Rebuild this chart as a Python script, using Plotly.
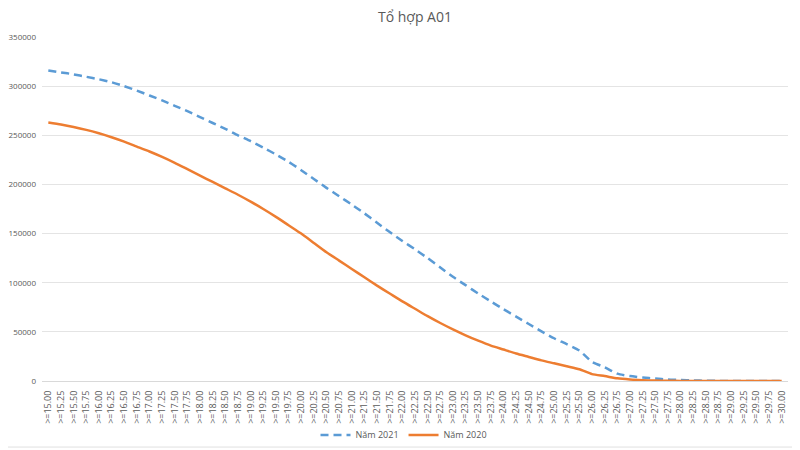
import plotly.graph_objects as go

categories = [">=%.2f" % v for v in
              [15.00, 15.25, 15.50, 15.75, 16.00, 16.25, 16.50, 16.75, 17.00, 17.25,
               17.50, 17.75, 18.00, 18.25, 18.50, 18.75, 19.00, 19.25, 19.50, 19.75,
               20.00, 20.25, 20.50, 20.75, 21.00, 21.25, 21.50, 21.75, 22.00, 22.25,
               22.50, 22.75, 23.00, 23.25, 23.50, 23.75, 24.00, 24.25, 24.50, 24.75,
               25.00, 25.25, 25.50, 26.00, 26.25, 26.75, 27.00, 27.25, 27.50, 27.75,
               28.00, 28.25, 28.50, 28.75, 29.00, 29.25, 29.50, 29.75, 30.00]]

nam_2021 = [316000, 314000, 312000, 309500, 307000, 304000, 300000, 295500, 290500, 285500,
            280000, 274500, 268500, 262500, 256500, 250000, 244000, 237500, 230500, 223000,
            214500, 205500, 196500, 188000, 179500, 170500, 161000, 151500, 142500, 134000,
            125000, 115500, 106000, 97500, 89000, 81000, 73000, 65500, 58000, 50500,
            43500, 37500, 31000, 19500, 14000, 7500, 5000, 3500, 2500, 1500,
            1000, 500, 300, 100, 50, 20, 10, 5, 0]

nam_2020 = [263000, 261000, 258500, 255500, 252000, 248000, 243500, 238500, 233500, 228000,
            222000, 215500, 209000, 202500, 196000, 189500, 182500, 175000, 167000, 158500,
            150000, 140500, 131000, 122500, 114000, 105500, 97000, 89000, 81000, 73500,
            66000, 59000, 52500, 46500, 41000, 36000, 32000, 28000, 24500, 21000,
            18000, 15000, 12000, 7000, 5000, 2700, 1500, 800, 400, 200,
            100, 50, 20, 10, 5, 0, 0, 0, 0]

FONT = "Open Sans"
GRAY = "#595959"

fig = go.Figure()
fig.add_trace(go.Scatter(
    x=categories, y=nam_2021, name="Năm 2021", mode="lines",
    line=dict(color="#5B9BD5", width=2.5, dash="8px,5px", shape="spline", smoothing=0.6),
))
fig.add_trace(go.Scatter(
    x=categories, y=nam_2020, name="Năm 2020", mode="lines",
    line=dict(color="#ED7D31", width=2.5, shape="spline", smoothing=0.6),
))

# page body has an 8px margin, so the figure is 792x442 and offsets are reduced by 8px
fig.update_layout(
    width=792, height=442,
    margin=dict(l=34, r=12, t=29, b=69, autoexpand=False),
    paper_bgcolor="white", plot_bgcolor="white",
    font=dict(family=FONT, color=GRAY, size=9),
    title=dict(text="Tổ hợp A01", x=0.5, xanchor="center", xref="paper",
               y=0.980, yanchor="middle",
               font=dict(family=FONT, size=14, color=GRAY)),
    showlegend=True,
    legend=dict(orientation="h", x=0.5, xanchor="center", xref="container",
                y=0.034, yanchor="middle", yref="container",
                bgcolor="rgba(0,0,0,0)",
                font=dict(family=FONT, size=9, color=GRAY), itemwidth=30),
    xaxis=dict(type="category", range=[-0.5, len(categories) - 0.5], automargin=False,
               tickangle=-90, showgrid=False, showline=True, linecolor="#D9D9D9",
               linewidth=1, ticks="", tickfont=dict(size=9, color=GRAY, family=FONT),
               ticklabelstandoff=5, fixedrange=True),
    yaxis=dict(range=[0, 350000], dtick=50000, tickformat="d", automargin=False,
               showgrid=True, gridcolor="#E4E4E4", gridwidth=1, zeroline=False,
               ticks="", tickfont=dict(size=8, color=GRAY, family=FONT),
               ticklabelstandoff=5, fixedrange=True),
    shapes=[dict(type="rect", xref="paper", yref="paper", x0=-0.06, x1=1.012,
                 y0=-0.192, y1=1.2, line=dict(color="#E0E0E0", width=1))],
)

fig.write_html("out.html")
